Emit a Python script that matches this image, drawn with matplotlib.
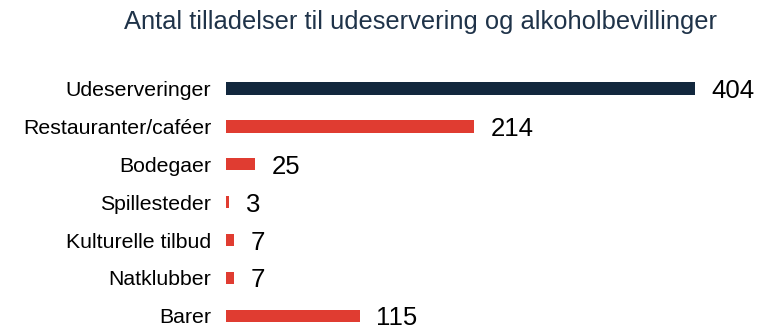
import matplotlib.pyplot as plt

plt.rcParams['font.family'] = ['Liberation Sans', 'DejaVu Sans']

categories = ['Udeserveringer', 'Restauranter/caféer', 'Bodegaer', 'Spillesteder',
              'Kulturelle tilbud', 'Natklubber', 'Barer']
values = [404, 214, 25, 3, 7, 7, 115]
colors = ['#12273d'] + ['#e03c31'] * 6

fig = plt.figure(figsize=(7.59, 3.29), dpi=100)
ax = fig.add_axes([226 / 759, 0.005, (695 - 226) / 759, 0.785])

y = list(range(len(categories)))
ax.barh(y, values, height=0.34, color=colors)

for yi, v in zip(y, values):
    ax.annotate(str(v), (v, yi), xytext=(12, 0), textcoords='offset points',
                va='center_baseline', ha='left', fontsize=18.5, color='black',
                annotation_clip=False)

ax.set_xlim(0, 404)
ax.set_ylim(6.3, -0.5)
ax.set_yticks(y)
ax.set_yticklabels(categories, fontsize=15.3, color='black')
ax.tick_params(axis='y', length=0, pad=10.8)
ax.set_xticks([])
for s in ax.spines.values():
    s.set_visible(False)

fig.text(420.5 / 759, 1 - 22 / 329, 'Antal tilladelser til udeservering og alkoholbevillinger',
         ha='center', va='center', fontsize=18.4, color='#1f3349')

fig.savefig('out.png', dpi=100)
